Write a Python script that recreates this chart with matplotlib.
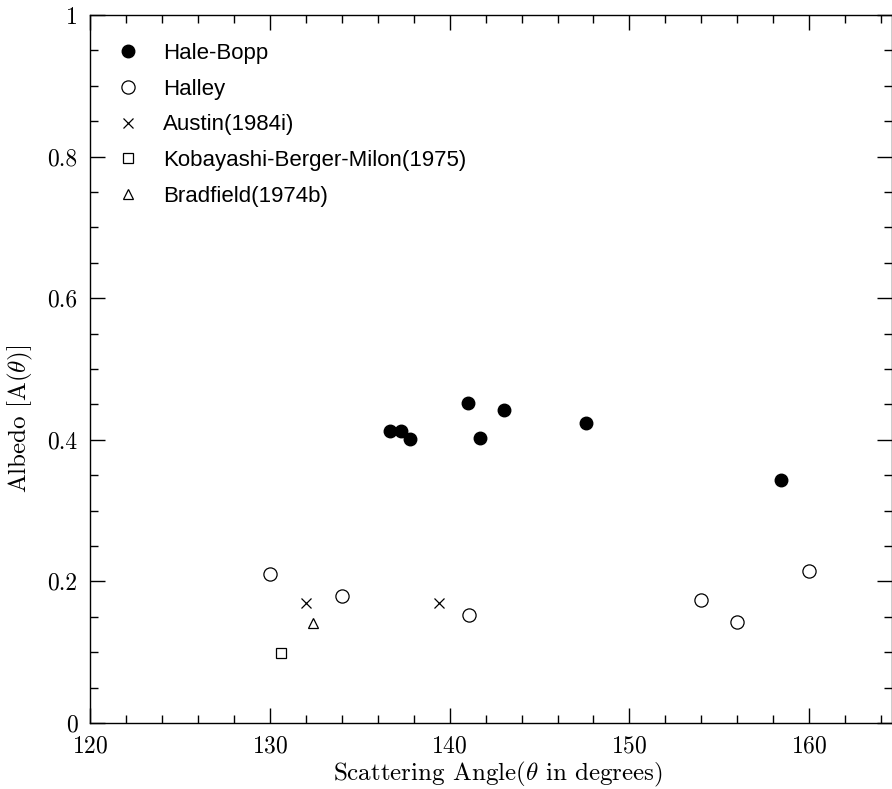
import matplotlib
matplotlib.use("Agg")
import matplotlib.pyplot as plt
from matplotlib.ticker import MultipleLocator, FuncFormatter

# values
hale_bopp_x = [136.7, 137.3, 137.8, 141.0, 141.7, 143.0, 147.6, 158.4]
hale_bopp_y = [0.412, 0.412, 0.401, 0.452, 0.402, 0.442, 0.423, 0.343]

halley_x = [130.0, 134.0, 141.1, 154.0, 156.0, 160.0]
halley_y = [0.210, 0.180, 0.152, 0.173, 0.143, 0.214]

austin_x = [132.0, 139.4]
austin_y = [0.170, 0.170]

kbm_x = [130.6]
kbm_y = [0.099]

bradfield_x = [132.4]
bradfield_y = [0.141]

plt.rcParams['mathtext.fontset'] = 'cm'
plt.rcParams['axes.formatter.use_mathtext'] = True

fig = plt.figure(figsize=(8.92, 7.89), dpi=100)
ax = fig.add_axes([0.1009, 0.0837, 0.8991, 0.8973])

ax.plot(hale_bopp_x, hale_bopp_y, 'o', color='black', markersize=9, label='Hale-Bopp')
ax.plot(halley_x, halley_y, 'o', markerfacecolor='white', markeredgecolor='black',
        markeredgewidth=0.9, markersize=9.5, label='Halley')
ax.plot(austin_x, austin_y, 'x', color='black', markeredgewidth=0.9, markersize=6.5,
        label='Austin(1984i)')
ax.plot(kbm_x, kbm_y, 's', markerfacecolor='white', markeredgecolor='black',
        markeredgewidth=0.9, markersize=6.5, label='Kobayashi-Berger-Milon(1975)')
ax.plot(bradfield_x, bradfield_y, '^', markerfacecolor='white', markeredgecolor='black',
        markeredgewidth=0.9, markersize=6.5, label='Bradfield(1974b)')

ax.set_xlim(120, 164.6)
ax.set_ylim(0, 1)

ax.xaxis.set_major_locator(MultipleLocator(10))
ax.xaxis.set_minor_locator(MultipleLocator(2))
ax.yaxis.set_major_locator(MultipleLocator(0.2))
ax.yaxis.set_minor_locator(MultipleLocator(0.05))
ax.yaxis.set_major_formatter(FuncFormatter(lambda v, p: '%g' % round(v, 2)))

ax.tick_params(which='both', direction='in', top=True, right=True, width=1.0)
ax.tick_params(which='major', length=11, pad=9, labelsize=17)
ax.tick_params(which='minor', length=5.5)
for lab in ax.get_xticklabels() + ax.get_yticklabels():
    lab.set_fontfamily('cmr10')

for sp in ax.spines.values():
    sp.set_linewidth(1.0)

ax.set_xlabel(r'Scattering Angle($\theta$ in degrees)', fontsize=18, family='cmr10')
ax.xaxis.set_label_coords(0.509, -0.052)
ax.set_ylabel(r'Albedo [A($\theta$)]', fontsize=18, family='cmr10')
ax.yaxis.set_label_coords(-0.068, 0.43)

ax.legend(loc='upper left', bbox_to_anchor=(0.0224, 0.973), borderaxespad=0, frameon=False,
          prop={'family': 'Liberation Sans', 'size': 16}, handlelength=1.0,
          handletextpad=1.08, labelspacing=0.66, numpoints=1)

fig.savefig('out.png', dpi=100)
